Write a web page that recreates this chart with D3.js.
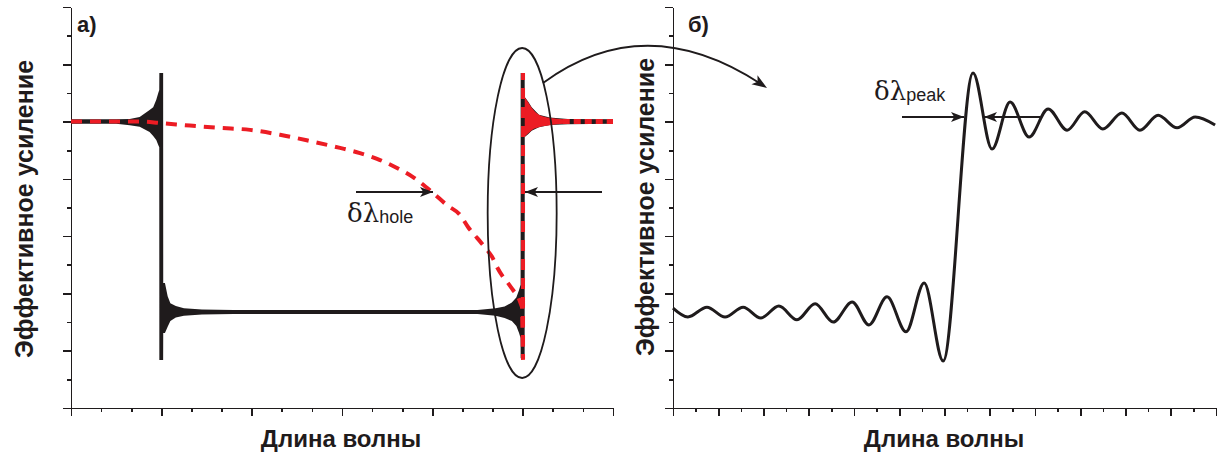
<!DOCTYPE html>
<html><head><meta charset="utf-8">
<script src="https://cdn.jsdelivr.net/npm/d3@7/dist/d3.min.js"></script>
<style>body{margin:0;background:#fff}svg{display:block}</style>
</head><body>
<svg id="chart" width="1230" height="457"></svg>
<script>
// ---------- data (arbitrary units) ----------
// panel a): black trace drawn as an envelope band (dense ringing)
const blackX  = [0,0.5,0.65,0.76,0.87,0.91,0.944,0.966,0.977,0.978,1.020,1.021,1.04,1.07,1.10,1.16,1.25,1.45,1.8,4.5,4.7,4.8,4.88,4.93,4.96,4.977,4.978,5.022,5.023,5.06,5.10,5.18,5.3,5.5,6.0];
const blackHi = [5.04,5.04,5.045,5.08,5.20,5.25,5.38,5.5,5.55,5.85,5.85,2.18,2.18,1.95,1.83,1.78,1.74,1.72,1.71,1.71,1.74,1.77,1.84,1.93,2.06,2.15,5.85,5.85,5.43,5.35,5.25,5.12,5.07,5.045,5.04];
const blackLo = [4.96,4.96,4.935,4.91,4.82,4.75,4.68,4.59,4.55,0.84,0.84,1.31,1.31,1.42,1.52,1.58,1.61,1.63,1.64,1.64,1.61,1.57,1.52,1.43,1.31,1.22,0.87,0.87,4.73,4.78,4.84,4.90,4.94,4.955,4.96];
// panel a): red dashed trace (smooth descending part, then the vertical edge)
const redX = [0,0.764,0.985,1.317,1.650,1.982,2.314,2.646,2.978,3.199,3.388,3.609,3.786,3.996,4.163,4.307,4.395,4.495,4.605,4.661,4.716,4.782,4.838,4.893,4.949,4.993];
const redY = [5.0,5.0,4.975,4.93,4.89,4.855,4.77,4.66,4.54,4.45,4.35,4.19,4.03,3.77,3.54,3.37,3.16,2.97,2.76,2.64,2.46,2.29,2.18,2.06,1.94,1.76];
const redEdgeX = [4.993,5.004,5.004];
const redEdgeY = [1.76,0.84,5.85];
const redRingX  = [5.023,5.06,5.10,5.18,5.3,5.45];
const redRingHi = [5.42,5.34,5.24,5.12,5.065,5.04];
const redRingLo = [4.74,4.79,4.85,4.90,4.935,4.96];
const redTailX = [5.2,6.0];
const redTailY = [5.0,5.0];
// panel б): damped oscillation (extrema)
const rightX = [0,0.33,0.75,1.15,1.55,1.94,2.34,2.74,3.14,3.54,3.96,4.33,4.73,5.15,5.55,5.97,6.63,7.05,7.45,7.87,8.29,8.71,9.10,9.50,9.92,10.32,10.72,11.14,11.54,11.98];
const rightY = [1.745,1.59,1.76,1.59,1.76,1.57,1.78,1.54,1.82,1.50,1.85,1.45,1.94,1.33,2.18,0.82,5.85,4.52,5.34,4.73,5.22,4.85,5.17,4.87,5.15,4.85,5.11,4.89,5.08,4.94];
// texts
const panelLabels = ["а)", "б)"];
const yTitle = "Эффективное усиление";
const xTitle = "Длина волны";
const holeLabel = ["δλ", "hole"];
const peakLabel = ["δλ", "peak"];

// ---------- drawing ----------
const svg = d3.select("#chart");
svg.append("rect").attr("width",1230).attr("height",457).attr("fill","#fff");
const INK = "#1f1b1c", RED = "#ec1c24";

const yS = d3.scaleLinear([0,7],[408,7]);
const xL = d3.scaleLinear([0,6],[71,613]);
const xR = d3.scaleLinear([0,12],[673,1216]);

function axes(xs, xMinorStep, xMajorStep, x0px) {
  const [d0,d1] = xs.domain();
  const g = svg.append("g");
  g.append("g").attr("transform",`translate(${x0px},0)`)
    .call(d3.axisLeft(yS).tickValues(d3.range(0.5,7,1)).tickSize(4).tickFormat(""))
    .call(s=>s.select(".domain").remove());
  g.append("g").attr("transform",`translate(${x0px},0)`)
    .call(d3.axisLeft(yS).tickValues(d3.range(0,7.01,1)).tickSize(8).tickSizeOuter(0).tickFormat(""));
  const minors = d3.range(d0, d1+1e-6, xMinorStep).filter(v=>Math.abs(v/xMajorStep-Math.round(v/xMajorStep))>1e-6);
  g.append("g").attr("transform",`translate(0,${yS(0)})`)
    .call(d3.axisBottom(xs).tickValues(minors).tickSize(4).tickFormat(""))
    .call(s=>s.select(".domain").remove());
  g.append("g").attr("transform",`translate(0,${yS(0)})`)
    .call(d3.axisBottom(xs).tickValues(d3.range(d0,d1+1e-6,xMajorStep)).tickSize(8).tickSizeOuter(0).tickFormat(""));
  g.selectAll("path,line").attr("stroke",INK).attr("stroke-width",1.6).attr("shape-rendering","crispEdges");
}
axes(xL, 1/3, 1, 71);
axes(xR, 0.5, 1, 673);

// panel a) black band
const band = blackX.map((x,i)=>({x, hi:blackHi[i], lo:blackLo[i]}));
svg.append("path").datum(band)
  .attr("d", d3.area().x(d=>xL(d.x)).y0(d=>yS(d.lo)).y1(d=>yS(d.hi)))
  .attr("fill", INK);

// red ringing
const ring = redRingX.map((x,i)=>({x, hi:redRingHi[i], lo:redRingLo[i]}));
svg.append("path").datum(ring)
  .attr("d", d3.area().curve(d3.curveMonotoneX).x(d=>xL(d.x)).y0(d=>yS(d.lo)).y1(d=>yS(d.hi)))
  .attr("fill", RED);

// red dashed trace
const smooth = d3.line().curve(d3.curveMonotoneX)(redX.map((x,i)=>[xL(x), yS(redY[i])]));
const edge = d3.line()(redEdgeX.map((x,i)=>[xL(x), yS(redEdgeY[i])]));
svg.append("path").attr("d", smooth + edge.replace(/^M/,"L"))
  .attr("fill","none").attr("stroke",RED).attr("stroke-width",4)
  .attr("stroke-dasharray","11 8");
svg.append("path").attr("d", d3.line()(redTailX.map((x,i)=>[xL(x), yS(redTailY[i])])))
  .attr("fill","none").attr("stroke",RED).attr("stroke-width",5)
  .attr("stroke-dasharray","7 4");

// panel б) curve
svg.append("path").attr("d", d3.line().curve(d3.curveMonotoneX)(rightX.map((x,i)=>[xR(x), yS(rightY[i])])))
  .attr("fill","none").attr("stroke",INK).attr("stroke-width",3);

// ---------- annotations ----------
function head(x2,y2,a,len,w){
  const p = [[x2,y2],
    [x2-len*Math.cos(a)+w/2*Math.sin(a), y2-len*Math.sin(a)-w/2*Math.cos(a)],
    [x2-len*0.75*Math.cos(a), y2-len*0.75*Math.sin(a)],
    [x2-len*Math.cos(a)-w/2*Math.sin(a), y2-len*Math.sin(a)+w/2*Math.cos(a)]];
  svg.append("path").attr("d","M"+p.map(q=>q.join(",")).join("L")+"Z").attr("fill",INK);
}
function arrow(x1,y1,x2,y2,len=13,w=10){
  svg.append("line").attr("x1",x1).attr("y1",y1).attr("x2",x2).attr("y2",y2)
    .attr("stroke",INK).attr("stroke-width",1.8);
  head(x2,y2,Math.atan2(y2-y1,x2-x1),len,w);
}
svg.append("ellipse").attr("cx",xL(5.0)-0.5).attr("cy",213).attr("rx",34.5).attr("ry",165)
  .attr("fill","none").attr("stroke",INK).attr("stroke-width",1.8);
{
  const P0=[543,83], C=[645,8], P2=[767,88];
  svg.append("path").attr("d",`M${P0}Q${C} ${P2[0]-6},${P2[1]-4}`)
    .attr("fill","none").attr("stroke",INK).attr("stroke-width",1.8);
  head(P2[0],P2[1],Math.atan2(P2[1]-C[1],P2[0]-C[0]),15,11);
}
arrow(356,192,433,192);
arrow(602,192,525,192);
arrow(902,117,964,117);
arrow(1040,117,984,117);

function dl(x,y,parts){
  const t = svg.append("text").attr("x",x).attr("y",y).attr("fill",INK);
  t.append("tspan").text(parts[0]).attr("font-family","'DejaVu Serif','Liberation Serif',serif").attr("font-size",26);
  t.append("tspan").text(parts[1]).attr("font-family","'Liberation Sans',Arial,sans-serif").attr("font-size",18).attr("dy",1);
}
dl(347,222,holeLabel);
dl(874,100,peakLabel);

const sans = "'Liberation Sans',Arial,sans-serif";
svg.append("text").attr("x",77).attr("y",32).text(panelLabels[0])
  .attr("font-family",sans).attr("font-weight","bold").attr("font-size",22).attr("fill",INK);
svg.append("text").attr("x",688).attr("y",32).text(panelLabels[1])
  .attr("font-family",sans).attr("font-weight","bold").attr("font-size",22).attr("fill",INK);

[[33,209],[654,207]].forEach(([x,y])=>{
  svg.append("text").attr("transform",`translate(${x},${y}) rotate(-90)`)
    .attr("text-anchor","middle").text(yTitle)
    .attr("font-family",sans).attr("font-weight","bold").attr("font-size",25).attr("fill",INK);
});
[[341,447],[944,447]].forEach(([x,y])=>{
  svg.append("text").attr("x",x).attr("y",y).attr("text-anchor","middle").text(xTitle)
    .attr("font-family",sans).attr("font-weight","bold").attr("font-size",24).attr("fill",INK);
});
</script>
</body></html>
